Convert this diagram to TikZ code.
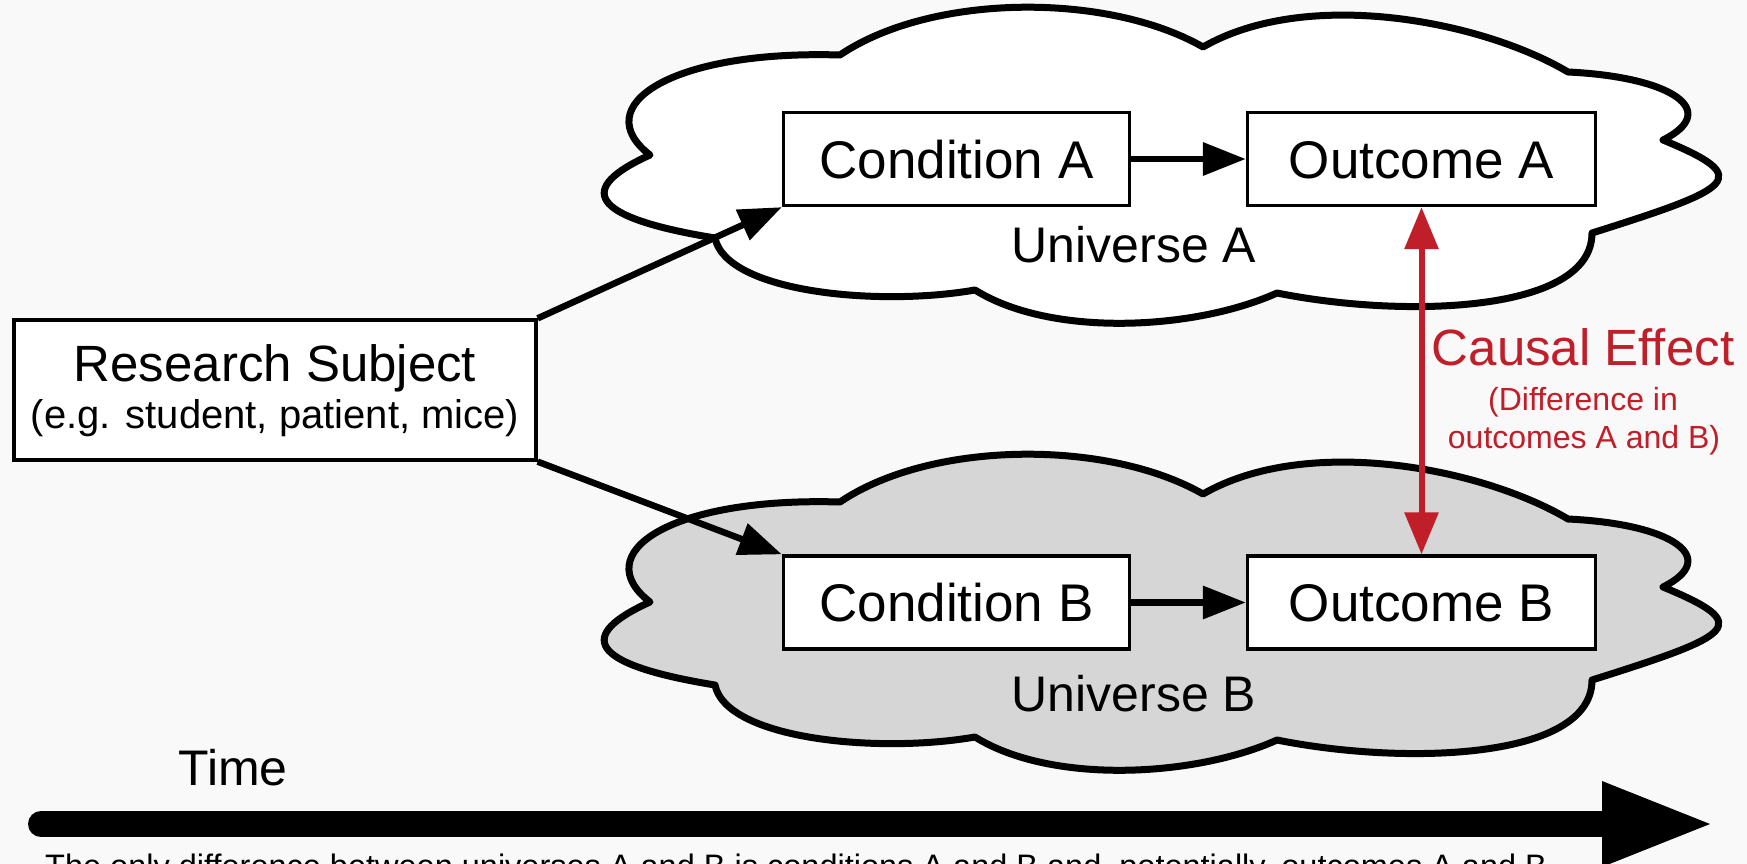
\documentclass[tikz,border=0pt]{standalone}
\usepackage{fontspec}
\setmainfont{Liberation Sans}
\usetikzlibrary{arrows.meta}
\definecolor{bgcol}{RGB}{249,249,249}
\definecolor{cloudgray}{RGB}{214,214,214}
\definecolor{causalred}{RGB}{192,30,40}
\tikzset{
  cloudline/.style={draw=black, line width=7pt, line join=round},
  box/.style={draw=black, fill=white, line width=3.3pt, inner sep=0pt,
    font=\fontsize{53}{60}\selectfont, text height=38pt, text depth=0pt},
  bigtext/.style={font=\fontsize{50}{60}\selectfont, anchor=base, inner sep=0pt},
  smalltext/.style={font=\fontsize{32}{40}\selectfont, anchor=base, inner sep=0pt},
  blackarrow/.style={line width=6.5pt, -{Triangle[length=43pt,width=32pt]}},
  redarrow/.style={draw=causalred, line width=6pt,
    {Triangle[length=42pt,width=33pt]}-{Triangle[length=42pt,width=33pt]}},
}
\begin{document}
\begin{tikzpicture}[x=1pt, y=-1pt]
\fill[bgcol] (0,0) rectangle (1747,864);
\useasboundingbox (0,0) rectangle (1747,864);
% clouds
\foreach \dy/\fc in {0/white, 447/cloudgray} {
  \filldraw[cloudline, fill=\fc, shift={(0,\dy)}]
    (840,55)
    .. controls (931,-6.6) and (1107,-8) .. (1203,47)
    .. controls (1307.4,-13) and (1482,21) .. (1568,72)
    .. controls (1673,77) and (1721,111) .. (1663,140)
    .. controls (1755,178) and (1734.5,188) .. (1592,233)
    .. controls (1592,313) and (1404,318.5) .. (1277,293)
    .. controls (1195,330) and (1051.5,337.7) .. (975,290)
    .. controls (877,307) and (726,292) .. (715,238)
    .. controls (586,217) and (577,188) .. (650,155)
    .. controls (586.8,106.2) and (670,49.9) .. (840,55)
    -- cycle;
}
% boxes
\node[box, minimum width=346pt, minimum height=93pt] (CA) at (956.5,159) {Condition A};
\node[box, minimum width=348pt, minimum height=93pt] (OA) at (1421.5,159) {Outcome A};
\node[box, minimum width=346pt, minimum height=93pt] (CB) at (956.5,602.5) {Condition B};
\node[box, minimum width=348pt, minimum height=93pt] (OB) at (1421.5,602.5) {Outcome B};
\node[draw=black, fill=white, line width=3.3pt, inner sep=0pt, align=center,
  minimum width=522pt, minimum height=140pt, text height=85pt, text depth=8pt,
  font=\fontsize{51}{47}\selectfont] (RS) at (275,390)
  {Research Subject\\\fontsize{40}{47}\selectfont (e.g. student, patient, mice)};
% labels
\node[bigtext] (UA) at (1134,262) {Universe A};
\node[bigtext] (UB) at (1134,711) {Universe B};
\node[bigtext] (TL) at (233,785) {Time};
\node[bigtext, text=causalred, font=\fontsize{51}{60}\selectfont] (CE1) at (1583,365) {Causal Effect};
\node[smalltext, text=causalred] (CE2) at (1583,410) {(Difference in};
\node[smalltext, text=causalred] (CE3) at (1584,448) {outcomes A and B)};
\node[font=\fontsize{32.5}{40}\selectfont, anchor=base west, inner sep=0pt] (NOTE) at (45,877)
  {The only difference between universes A and B is conditions A and B and, potentially, outcomes A and B};
% connectors
\draw[blackarrow] (RS.north east) -- (CA.south west);
\draw[blackarrow] (RS.south east) -- (CB.north west);
\draw[blackarrow] (CA.east) -- (OA.west);
\draw[blackarrow] (CB.east) -- (OB.west);
\draw[redarrow] (OA.south) -- (OB.north);
% time arrow
\coordinate (TS) at (41,824);
\coordinate (TH) at (1604,824);
\coordinate (THtop) at (1602,781);
\coordinate (THbot) at (1602,867);
\coordinate (TT) at (1710,824);
\draw[line width=26pt, line cap=round] (TS) -- (TH);
\fill (THtop) -- (TT) -- (THbot) -- cycle;
\end{tikzpicture}
\end{document}
